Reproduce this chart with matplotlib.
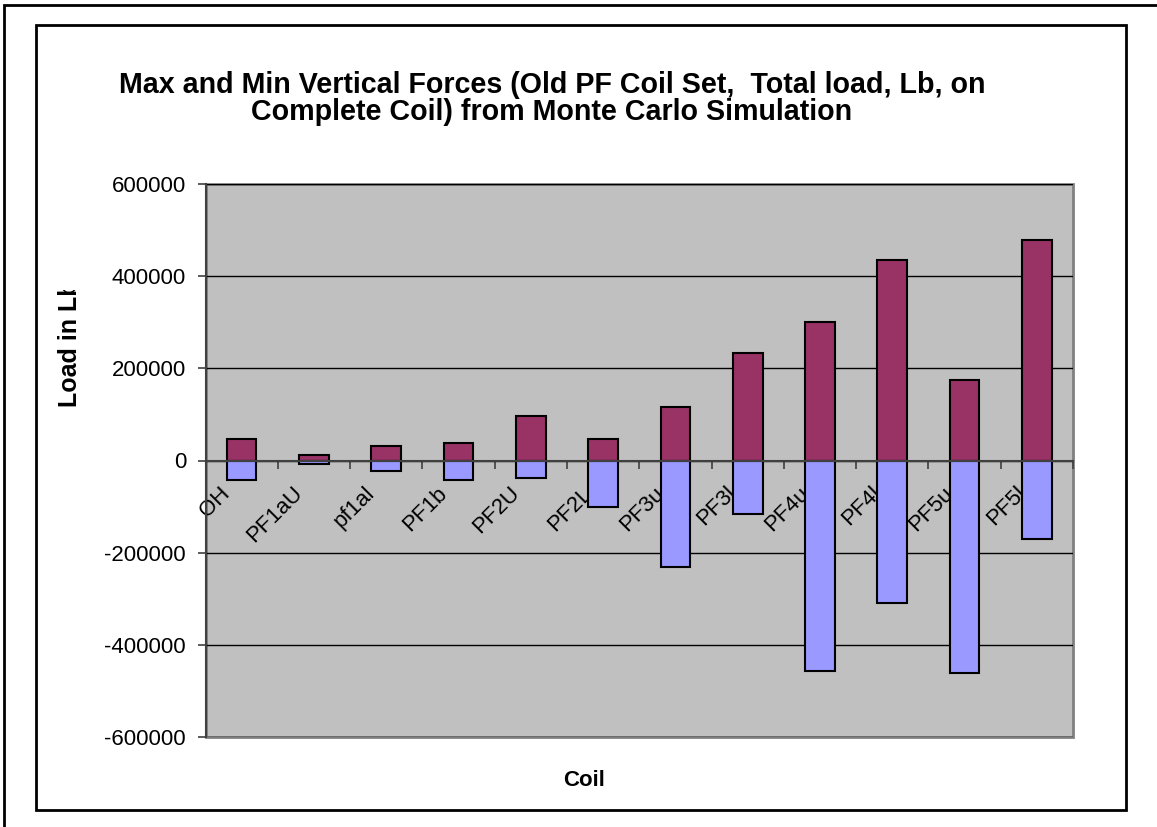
import numpy as np
import matplotlib
matplotlib.use("Agg")
import matplotlib.pyplot as plt
import matplotlib.patches as mpatches
import matplotlib.transforms as mtransforms
from matplotlib.transforms import Bbox

plt.rcParams['font.family'] = ['Liberation Sans', 'DejaVu Sans']
plt.rcParams['axes.unicode_minus'] = False

# Coil names and Monte Carlo extremes of vertical load (Lb)
coils = ['OH', 'PF1aU', 'pf1al', 'PF1b', 'PF2U', 'PF2L',
         'PF3u', 'PF3l', 'PF4u', 'PF4l', 'PF5u', 'PF5l']
max_load = [47000, 12000, 31000, 39000, 97000, 46000,
            116000, 233000, 301000, 436000, 174000, 479000]
min_load = [-42500, -8000, -23000, -42000, -39000, -100000,
            -232000, -117000, -456000, -309000, -461000, -171000]
y_ticks = [-600000, -400000, -200000, 0, 200000, 400000, 600000]

W, H = 1157, 827
fig = plt.figure(figsize=(W / 100, H / 100), dpi=100)

# frames around the sheet and the chart object
fig.add_artist(mpatches.Rectangle((3.5 / W, -0.1), 1.2, 1.1 - 5 / H,
                                  transform=fig.transFigure, fill=False,
                                  edgecolor='black', linewidth=2))
fig.add_artist(mpatches.Rectangle((36 / W, 1 - 810 / H), (1126 - 36) / W,
                                  (810 - 25) / H, transform=fig.transFigure,
                                  fill=False, edgecolor='black', linewidth=2))

left, right, top, bottom = 205.5, 1073, 184, 737
ax = fig.add_axes([left / W, 1 - bottom / H, (right - left) / W, (bottom - top) / H])
ax.set_facecolor('#C0C0C0')
ax.patch.set_edgecolor('#808080')
ax.patch.set_linewidth(2)

x = np.arange(len(coils))
ax.bar(x, max_load, width=0.41, color='#993366', edgecolor='black', linewidth=1.5, zorder=3)
ax.bar(x, min_load, width=0.41, color='#9999FF', edgecolor='black', linewidth=1.5, zorder=3)

ax.set_xlim(-0.5, len(coils) - 0.5)
ax.set_ylim(-600000, 600000)
ax.set_yticks(y_ticks)
ax.yaxis.grid(True, color='black', linewidth=1)
ax.set_axisbelow(True)

for side in ['top', 'right']:
    ax.spines[side].set_visible(False)
ax.spines['left'].set_color('#404040')
ax.spines['left'].set_linewidth(1.5)
ax.spines['bottom'].set_position(('data', 0))
ax.spines['bottom'].set_color('#404040')
ax.spines['bottom'].set_linewidth(1.5)
ax.spines['bottom'].set_zorder(4)

ax.tick_params(axis='y', direction='out', length=6, width=1.2, color='#404040',
               labelsize=16, pad=8)
ax.set_xticks(x)
ax.set_xticks(np.arange(-0.5, len(coils), 1), minor=True)
ax.set_xticklabels(coils)
ax.tick_params(axis='x', which='major', length=0, labelsize=16, pad=16)
ax.tick_params(axis='x', which='minor', direction='out', length=6, width=1.2,
               color='#404040')

shift = mtransforms.ScaledTranslation(-0.22, 0, fig.dpi_scale_trans)
for lab in ax.get_xticklabels():
    lab.set_rotation(45)
    lab.set_ha('right')
    lab.set_rotation_mode('anchor')
    lab.set_transform(lab.get_transform() + shift)

fig.text(552 / W, 1 - 85 / H,
         'Max and Min Vertical Forces (Old PF Coil Set,  Total load, Lb, on',
         ha='center', va='center', fontsize=20.6, fontweight='bold')
fig.text(552 / W, 1 - 112 / H,
         'Complete Coil) from Monte Carlo Simulation',
         ha='center', va='center', fontsize=20.6, fontweight='bold')
fig.text(584 / W, 1 - 781 / H, 'Coil', ha='center', va='center',
         fontsize=16, fontweight='bold')

# axis title is cut off at the top by the chart layout
ylab = fig.text(70 / W, 1 - 407 / H, 'Load in Lb', rotation=90, ha='center',
                va='bottom', fontsize=18, fontweight='bold')
ylab.set_clip_box(Bbox([[0, 0], [W, H - 290]]))
ylab.set_clip_on(True)

fig.savefig('out.png', dpi=100)
